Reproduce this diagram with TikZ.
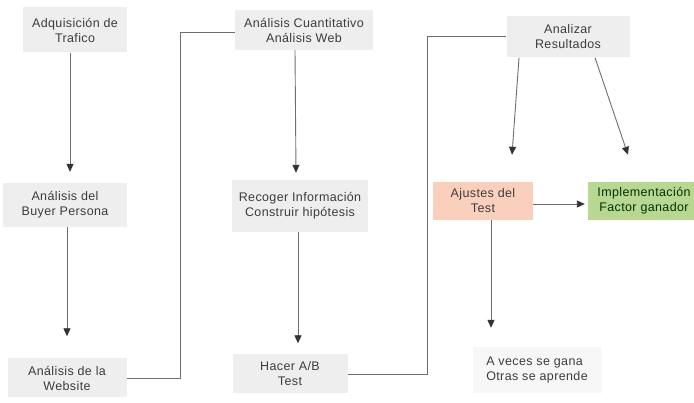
\documentclass[tikz,border=0pt]{standalone}
\usepackage{fontspec}
\setmainfont[LetterSpace=3]{Liberation Sans}
\usetikzlibrary{arrows.meta}

\definecolor{cajagris}{RGB}{238,238,238}
\definecolor{cajaroja}{RGB}{250,208,188}
\definecolor{cajaverde}{RGB}{184,216,146}
\definecolor{textogris}{RGB}{60,60,60}
\definecolor{lineagris}{RGB}{110,110,110}

\tikzset{
  caja/.style={fill=cajagris, text=textogris, align=center, inner sep=2pt,
    font=\fontsize{12.5}{15}\selectfont},
  linea/.style={draw=lineagris, line width=0.9pt},
  flecha/.style={linea, -{Triangle[length=8pt,width=7pt,color=black!80]}}
}

\begin{document}
\begin{tikzpicture}[x=1pt,y=-1pt]
        % marco
        \useasboundingbox (0,0) rectangle (694,403);

        % primera columna
        \node[caja, minimum width=104, minimum height=45] (adq) at (75,30) {Adquisición de\\Trafico};
        \node[caja, minimum width=124, minimum height=44] (buyer) at (65,205) {Análisis del\\Buyer Persona};
        \node[caja, minimum width=119, minimum height=39] (web) at (67,378) {Análisis de la\\Website};

        % segunda columna
        \node[caja, minimum width=138, minimum height=40] (cuant) at (304,30) {Análisis Cuantitativo\\Análisis Web};
        \node[caja, minimum width=136, minimum height=52] (reco) at (300,206) {Recoger Información\\Construir hipótesis};
        \node[caja, minimum width=115, minimum height=39] (hacer) at (290,374) {Hacer A/B\\Test};

        % tercera columna
        \node[caja, minimum width=123, minimum height=41] (ana) at (568,37) {Analizar\\Resultados};
        \node[caja, fill=cajaroja, minimum width=100, minimum height=38] (ajus) at (483,201) {Ajustes del\\Test};
        \node[caja, fill=cajaverde, text=black!80!green, minimum width=112, minimum height=38] (impl) at (644,201) {Implementación\\Factor ganador};
        \node[caja, fill=gray!6, align=left, minimum width=129, minimum height=46] (gana) at (537,370) {A veces se gana\\Otras se aprende};

        % flechas
        \draw[flecha] ([xshift=-5]adq.south) -- ([xshift=5,yshift=11]buyer.north);
        \draw[flecha] ([xshift=2]buyer.south) -- ([yshift=22]web.north);
        \draw[flecha] ([xshift=-9]cuant.south) -- ([xshift=-4,yshift=7]reco.north);
        \draw[flecha] ([xshift=-2]reco.south) -- ([xshift=8,yshift=11]hacer.north);
        \draw[flecha] ([xshift=-49]ana.south) -- ([xshift=29,yshift=27]ajus.north);
        \draw[flecha] ([xshift=27]ana.south) -- ([xshift=-16,yshift=27]impl.north);
        \draw[flecha] ([yshift=-3]ajus.east) -- ([xshift=-3,yshift=-3]impl.west);
        \draw[flecha] ([xshift=8]ajus.south) -- ([xshift=-46,yshift=19]gana.north);

        % conexiones entre columnas
        \draw[linea] (web.east) -- ++(54,0) |- ([yshift=-2]cuant.west);
        \draw[linea] (hacer.east) -- ++(80,0) |- ([yshift=1]ana.west);
    \end{tikzpicture}
\end{document}
